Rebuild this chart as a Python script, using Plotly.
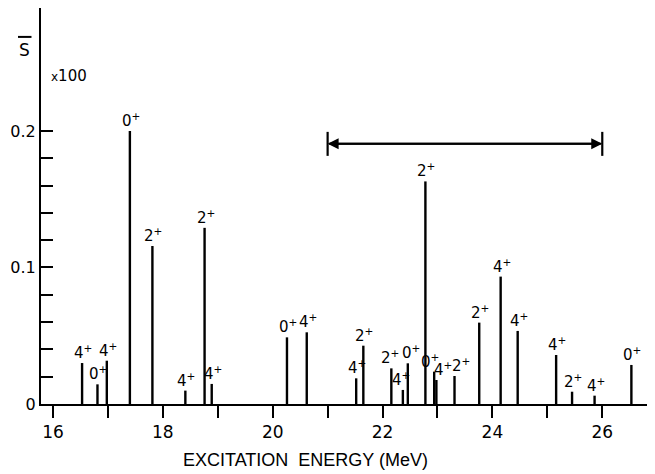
import plotly.graph_objects as go

# ---- data ----
energy = [16.53, 16.81, 16.98, 17.40, 17.81, 18.41, 18.76, 18.89, 20.26, 20.62,
          21.52, 21.65, 22.16, 22.37, 22.46, 22.78, 22.94, 22.98, 23.31, 23.76,
          24.15, 24.46, 25.16, 25.45, 25.86, 26.53]
strength = [0.030, 0.0144, 0.0317, 0.200, 0.1157, 0.0098, 0.129, 0.0147, 0.0488, 0.0525,
            0.0188, 0.0427, 0.0261, 0.0103, 0.0298, 0.163, 0.0237, 0.0176, 0.0205, 0.0596,
            0.0933, 0.0535, 0.0359, 0.0090, 0.0061, 0.0286]
spin = ['4', '0', '4', '0', '2', '4', '2', '4', '0', '4',
        '4', '2', '2', '4', '0', '2', '0', '4', '2', '2',
        '4', '4', '4', '2', '4', '0']

x_tick_vals = list(range(16, 27))
x_tick_text = [str(v) if v % 2 == 0 else '' for v in x_tick_vals]
y_tick_vals = [i * 0.02 for i in range(11)]
y_tick_text = ['0' if i == 0 else ('0.1' if i == 5 else ('0.2' if i == 10 else '')) for i in range(11)]

range_lo, range_hi, range_level = 21.0, 26.0, 0.1905

# ---- styling ----
FONT = "Liberation Sans"
LABEL_FONT = "DejaVu Sans"
INK = "black"
label_nudge = {22.16: -2, 22.37: -3, 22.46: 2, 22.94: -5, 22.98: 6, 23.31: 5}

xs, ys = [], []
for e, s in zip(energy, strength):
    xs += [e, e, None]
    ys += [0, s, None]

fig = go.Figure()
fig.add_trace(go.Scatter(x=xs, y=ys, mode="lines",
                         line=dict(color=INK, width=2.4),
                         hoverinfo="skip", showlegend=False))

annotations = []
for e, s, j in zip(energy, strength, spin):
    annotations.append(dict(
        x=e, y=s, xref="x", yref="y", text=f"{j}<sup>+</sup>",
        showarrow=False, yanchor="bottom", xanchor="center",
        xshift=1 + label_nudge.get(e, 0), yshift=-1,
        font=dict(family=LABEL_FONT, size=15, color=INK)))

# double-headed range arrow: each arrow spans the full width so the shaft is continuous
for end, tail in ((range_lo, range_hi), (range_hi, range_lo)):
    annotations.append(dict(
        x=end, y=range_level, ax=tail, ay=range_level, xref="x", yref="y",
        axref="x", ayref="y", text="", showarrow=True, arrowhead=2,
        arrowsize=1.1, arrowwidth=2, arrowcolor=INK, standoff=0))

annotations += [
    dict(x=-0.027, y=0.895, xref="paper", yref="paper", text="S", showarrow=False,
         xanchor="center", yanchor="middle", font=dict(family=LABEL_FONT, size=17, color=INK)),
    dict(x=0.046, y=0.828, xref="paper", yref="paper",
         text="<span style='font-size:12px'>x</span>100", showarrow=False,
         xanchor="center", yanchor="middle", font=dict(family=LABEL_FONT, size=15, color=INK)),
    dict(x=0.430, y=-0.141, xref="paper", yref="paper",
         text="EXCITATION&nbsp;&nbsp;ENERGY (MeV)", showarrow=False,
         xanchor="center", yanchor="middle", font=dict(family=FONT, size=18, color=INK)),
]

shapes = []
for end in (range_lo, range_hi):
    shapes.append(dict(type="line", xref="x", yref="y", ysizemode="pixel",
                       yanchor=range_level, x0=end, x1=end, y0=-12, y1=12,
                       line=dict(color=INK, width=2.2)))
shapes.append(dict(type="line", xref="paper", yref="paper",
                   x0=-0.0375, x1=-0.0155, y0=0.927, y1=0.927,
                   line=dict(color=INK, width=2)))

# the page body adds an 8px margin, so the figure is 8px smaller and offset accordingly
fig.update_layout(
    width=647, height=466,
    margin=dict(l=33, r=0, t=0, b=70, autoexpand=False),
    paper_bgcolor="white", plot_bgcolor="white",
    font=dict(family=FONT, color=INK),
    annotations=annotations, shapes=shapes,
    xaxis=dict(range=[15.782, 26.96], tickmode="array", tickvals=x_tick_vals,
               ticktext=x_tick_text, ticks="outside", ticklen=12, tickwidth=2,
               tickcolor=INK, showline=True, linecolor=INK, linewidth=2,
               showgrid=False, zeroline=False, automargin=False,
               tickfont=dict(size=17, family=LABEL_FONT)),
    yaxis=dict(range=[0, 0.29], tickmode="array", tickvals=y_tick_vals,
               ticktext=y_tick_text, ticks="inside", ticklen=12, tickwidth=2,
               tickcolor=INK, showline=True, linecolor=INK, linewidth=2,
               showgrid=False, zeroline=False, automargin=False,
               tickfont=dict(size=16, family=LABEL_FONT)),
)

fig.write_html("out.html")
